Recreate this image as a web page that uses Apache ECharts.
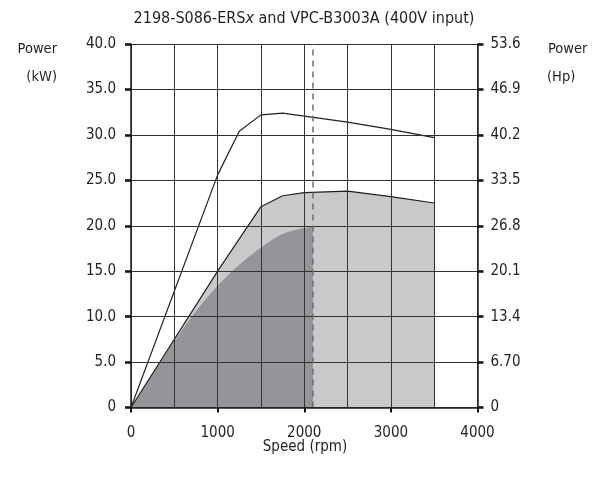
<!DOCTYPE html>
<html>
<head>
<meta charset="utf-8">
<script src="https://cdn.jsdelivr.net/npm/echarts@6/dist/echarts.min.js"></script>
<style>html,body{margin:0;padding:0;background:#fff}#c{width:605px;height:489px}</style>
</head>
<body>
<div id="c"></div>
<script>
// Speed (rpm) vs power (kW)
const peakCurve = [[0,0],[1000,25.6],[1250,30.4],[1500,32.2],[1750,32.4],[2500,31.4],[3000,30.6],[3500,29.7]];
const contCurve = [[0,0],[1000,15.0],[1500,22.1],[1750,23.3],[2000,23.65],[2500,23.8],[3000,23.2],[3500,22.5]];
const darkCurve = [[0,0],[250,3.7],[500,7.3],[750,10.6],[1000,13.4],[1250,15.7],[1500,17.6],[1750,19.1],[2000,19.75],[2100,19.9]];
const dashSpeed = 2100;
const kwLabels = ['0','5.0','10.0','15.0','20.0','25.0','30.0','35.0','40.0'];
const hpLabels = ['0','6.70','13.4','20.1','26.8','33.5','40.2','46.9','53.6'];
const titleText = '2198-S086-ERS{i|x} and VPC-B3003A (400V input)';

const FONT = "'DejaVu Sans Condensed', 'DejaVu Sans', sans-serif";
const FS = 15;
const TXT = '#231f20';
const chart = echarts.init(document.getElementById('c'), null, {renderer:'canvas'});
const ax = {
  type:'value', min:0, max:40, interval:5,
  axisLine:{show:true, lineStyle:{color:'#231f20', width:1.5}},
  axisTick:{show:true, length:6, lineStyle:{color:'#111', width:2.5}},
  splitLine:{show:false},
  z:5
};
chart.setOption({
  animation:false,
  backgroundColor:'#fff',
  textStyle:{fontFamily:FONT},
  grid:{left:131, right:127.5, top:44, bottom:81.5, show:false},
  xAxis:{
    type:'value', min:0, max:4000, interval:1000, z:5,
    axisLine:{show:true, lineStyle:{color:'#231f20', width:1.5}},
    axisTick:{show:true, length:5, lineStyle:{color:'#111', width:2}},
    axisLabel:{color:TXT, fontSize:FS, fontFamily:FONT, margin:18, formatter:(v)=>String(v)},
    splitLine:{show:true, lineStyle:{color:'#333', width:1}},
    minorTick:{show:false, splitNumber:2},
    minorSplitLine:{show:true, lineStyle:{color:'#333', width:1}}
  },
  yAxis:[
    Object.assign({}, ax, {
      position:'left',
      axisLabel:{color:TXT, fontSize:FS, fontFamily:FONT, margin:15,
        formatter:(v)=>kwLabels[Math.round(v/5)]},
      splitLine:{show:true, lineStyle:{color:'#333', width:1}}
    }),
    Object.assign({}, ax, {
      position:'right',
      axisLabel:{color:TXT, fontSize:FS, fontFamily:FONT, margin:13,
        formatter:(v)=>hpLabels[Math.round(v/5)]}
    })
  ],
  series:[
    {type:'line', data:contCurve, symbol:'none', lineStyle:{width:0}, areaStyle:{color:'#c8c9cb', opacity:1}, z:1},
    {type:'line', data:darkCurve, symbol:'none', smooth:0.3, lineStyle:{width:0}, areaStyle:{color:'#939598', opacity:1}, z:2,
      markLine:{symbol:'none', silent:true, label:{show:false},
        lineStyle:{color:'#6d6e70', type:[6,5], width:1.5},
        data:[{xAxis:dashSpeed}]}},
    {type:'line', data:contCurve, symbol:'none', lineStyle:{color:'#231f20', width:1.2}, z:3},
    {type:'line', data:peakCurve, symbol:'none', lineStyle:{color:'#231f20', width:1.2}, z:3}
  ],
  graphic:[
    {type:'text', x:304, y:19, style:{text:titleText, fill:TXT, font:'16px '+FONT, align:'center', verticalAlign:'middle',
      rich:{i:{fontStyle:'italic', fontSize:16, fontFamily:FONT, fill:TXT}}}},
    {type:'text', x:305, y:447, style:{text:'Speed (rpm)', fill:TXT, font:'15px '+FONT, align:'center', verticalAlign:'middle'}},
    {type:'text', x:57, y:49, style:{text:'Power', fill:TXT, font:'14.5px '+FONT, align:'right', verticalAlign:'middle'}},
    {type:'text', x:57, y:77, style:{text:'(kW)', fill:TXT, font:'14.5px '+FONT, align:'right', verticalAlign:'middle'}},
    {type:'text', x:548, y:49, style:{text:'Power', fill:TXT, font:'14.5px '+FONT, align:'left', verticalAlign:'middle'}},
    {type:'text', x:547, y:77, style:{text:'(Hp)', fill:TXT, font:'14.5px '+FONT, align:'left', verticalAlign:'middle'}}
  ]
});
</script>
</body>
</html>
